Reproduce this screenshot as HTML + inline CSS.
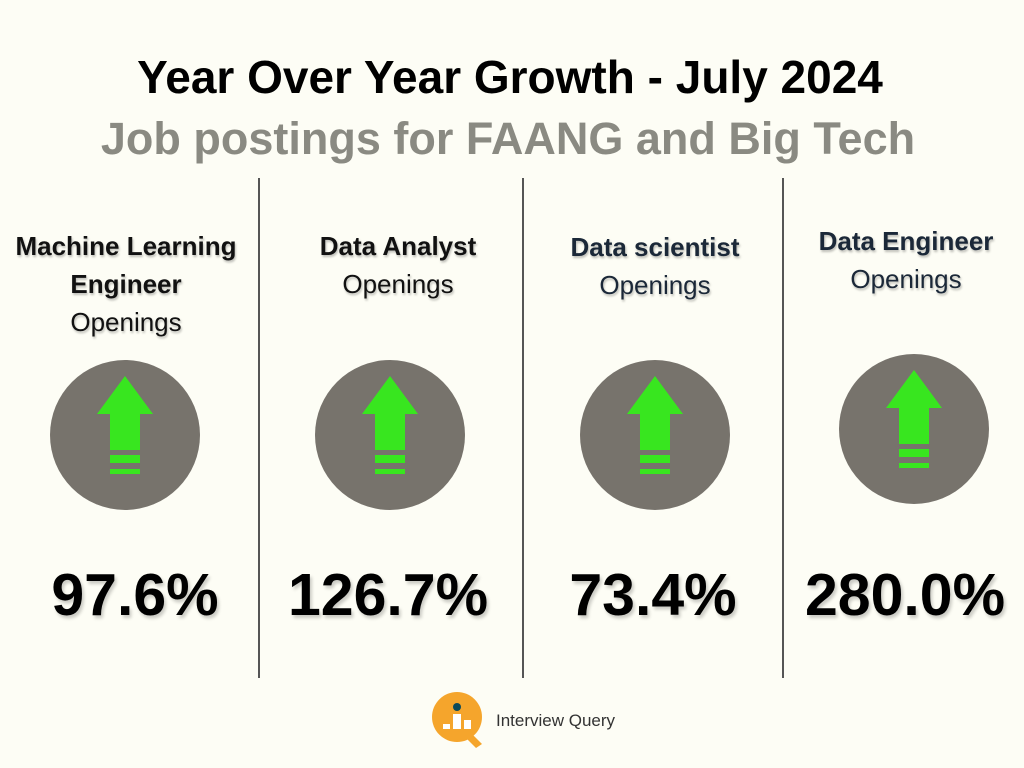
<!DOCTYPE html>
<html><head><style>
body{margin:0;width:1024px;height:768px;background:#fdfdf5;position:relative;overflow:hidden;font-family:"Liberation Sans","DejaVu Sans",sans-serif}
.t{position:absolute;left:0;width:1024px;text-align:center;font-weight:bold}
.div{position:absolute;top:178px;width:1.5px;height:500px;background:#555}
.lab{position:absolute;text-align:center;font-size:26px;line-height:38px;color:#111;text-shadow:1px 2px 2px rgba(0,0,0,0.25)}
.lab b{font-weight:bold}
.pct{position:absolute;top:561px;font-size:59px;font-weight:bold;text-align:center;width:260px;color:#000;text-shadow:2px 3px 3px rgba(0,0,0,0.2)}
</style></head><body>
<div class="t" style="top:50px;font-size:46px;color:#000;left:-2px">Year Over Year Growth - July 2024</div>
<div class="t" style="top:113px;font-size:45px;color:#8a8a82;left:-4px">Job postings for FAANG and Big Tech</div>
<div class="div" style="left:258px"></div>
<div class="div" style="left:522px"></div>
<div class="div" style="left:782px"></div>
<div class="lab" style="left:-2px;width:256px;top:227px"><b>Machine Learning<br>Engineer</b><br>Openings</div>
<div class="lab" style="left:268px;width:260px;top:227px"><b>Data Analyst</b><br>Openings</div>
<div class="lab" style="left:525px;width:260px;top:228px;color:#1b2838"><b>Data scientist</b><br>Openings</div>
<div class="lab" style="left:776px;width:260px;top:222px;color:#1b2838"><b>Data Engineer</b><br>Openings</div>
<svg width="1024" height="768" style="position:absolute;left:0;top:0">
<defs><g id="ic"><circle cx="0" cy="0" r="75" fill="#77736c"/>
<polygon points="0,-59 28,-21 15,-21 15,15 -15,15 -15,-21 -28,-21" fill="#38e61f"/>
<rect x="-15" y="20" width="30" height="8" fill="#38e61f"/><rect x="-15" y="34" width="30" height="5" fill="#38e61f"/></g></defs>
<use href="#ic" x="125" y="435"/><use href="#ic" x="390" y="435"/><use href="#ic" x="655" y="435"/><use href="#ic" x="914" y="429"/>
<circle cx="457" cy="717" r="25" fill="#f5a52c"/>
<path d="M470 732 L482 744 L476 748 L464 736Z" fill="#f5a52c"/>
<circle cx="457" cy="707" r="4" fill="#0d4a5a"/>
<rect x="443" y="724" width="7" height="5" fill="#fff"/><rect x="453" y="714" width="8" height="15" fill="#fff"/><rect x="464" y="720" width="7" height="9" fill="#fff"/>
<text x="496" y="726" font-family="Liberation Sans, sans-serif" font-size="17" fill="#333">Interview Query</text>
</svg>
<div class="pct" style="left:5px">97.6%</div>
<div class="pct" style="left:258px">126.7%</div>
<div class="pct" style="left:523px">73.4%</div>
<div class="pct" style="left:775px">280.0%</div>
</body></html>
